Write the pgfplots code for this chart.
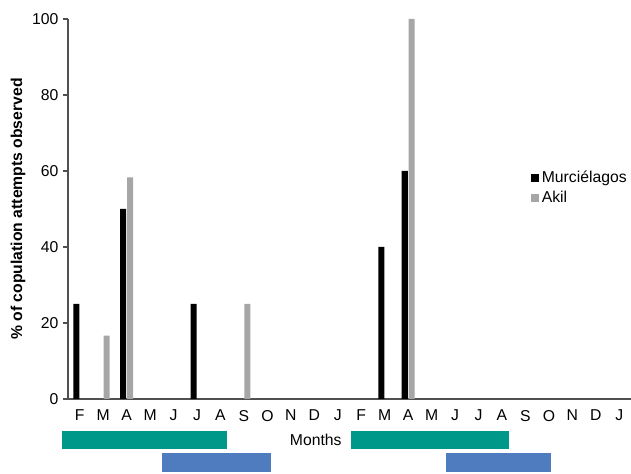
\documentclass[border=0pt]{standalone}
\usepackage{pgfplots}
\pgfplotsset{compat=1.18}
\usepackage{fontspec}
\setmainfont{Liberation Sans}
\definecolor{tealband}{RGB}{0,153,137}
\definecolor{blueband}{RGB}{78,124,190}
\definecolor{akil}{RGB}{166,166,166}
\definecolor{axisgray}{RGB}{80,80,80}
\newcommand{\chartfont}{\fontsize{11.8}{14}\selectfont}
\begin{document}
\begin{tikzpicture}
\begin{axis}[
  scale only axis, width=422.25pt, height=285pt,
  xmin=-0.5, xmax=23.5, ymin=0, ymax=100,
  ybar=0.6pt, bar width=4.5pt,
  axis x line*=bottom, axis y line*=left,
  axis line style={axisgray, line width=0.8pt},
  xtick={0,...,23},
  xticklabels={F,M,A,M,J,J,A,S,O,N,D,J,F,M,A,M,J,J,A,S,O,N,D,J},
  x tick style={draw=none},
  tick label style={font=\chartfont},
  xticklabel style={yshift=-1pt},
  ytick={0,20,...,100}, tick align=outside,
  y tick style={axisgray, line width=0.8pt}, major tick length=3.75pt,
  /pgf/number format/assume math mode=true,
  label style={font=\chartfont},
  xlabel={Months},
  xlabel style={at={(axis description cs:0.44,-0.1079)}, anchor=center},
  ylabel={\bfseries\% of copulation attempts observed},
  ylabel style={at={(axis description cs:-0.0888,0.5)}, anchor=center},
  clip=false,
  legend style={draw=none, fill=none, at={(0.814,0.555)}, anchor=west, row sep=1pt, font=\chartfont},
  legend cell align=left,
  legend image code/.code={\fill[#1] (0pt,-3pt) rectangle (6.5pt,3pt);},
]
\addplot[fill=black, draw=none] coordinates {(0,25) (2,50) (5,25) (13,40) (14,60)};
\addlegendentry{Murciélagos}
\addplot[fill=akil, draw=none] coordinates {(1,16.7) (2,58.3) (7,25) (14,100)};
\addlegendentry{Akil}
\fill[tealband] (axis cs:-0.756,-8.42) rectangle (axis cs:6.278,-13.16);
\fill[tealband] (axis cs:11.564,-8.42) rectangle (axis cs:18.30,-13.16);
\fill[blueband] (axis cs:3.507,-14.21) rectangle (axis cs:8.154,-19.21);
\fill[blueband] (axis cs:15.614,-14.21) rectangle (axis cs:20.09,-19.21);
\end{axis}
\pgfresetboundingbox
\path (current axis.south west) ++(-51pt,-56.25pt) rectangle ++(473.25pt,355.5pt);
\end{tikzpicture}
\end{document}
